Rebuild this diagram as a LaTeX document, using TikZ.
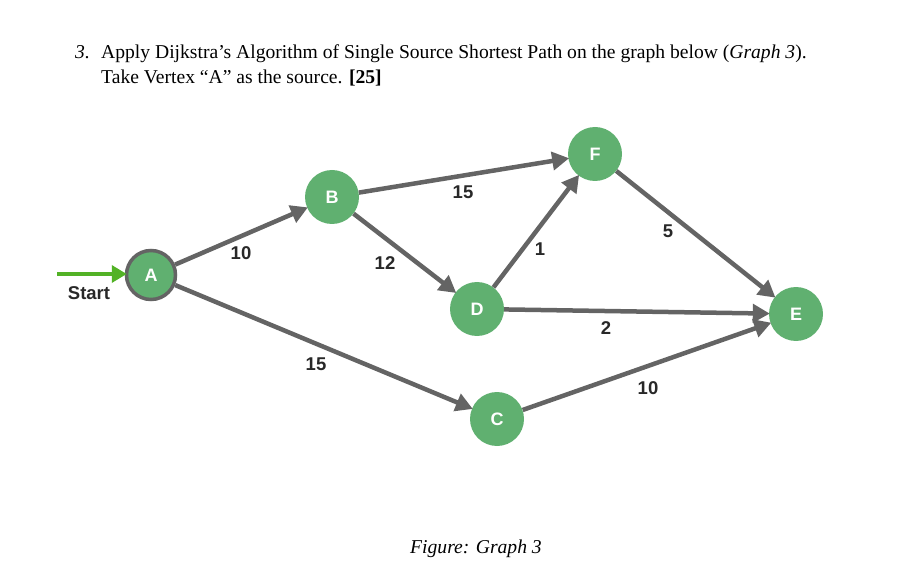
\documentclass[tikz,border=0pt]{standalone}
\usepackage{fontspec}
\setmainfont{Liberation Serif}
\newfontfamily\lblfont{Liberation Sans}
\usetikzlibrary{arrows.meta}
\definecolor{nodegreen}{RGB}{96,176,112}
\definecolor{edgegray}{RGB}{100,100,100}
\definecolor{startgreen}{RGB}{82,178,38}
\definecolor{lblgray}{RGB}{40,40,40}
\tikzset{
  vert/.style={circle, fill=nodegreen, minimum size=54pt, inner sep=0pt,
    text=white, font=\lblfont\bfseries\fontsize{18}{18}\selectfont},
  edg/.style={draw=edgegray, line width=4.5pt,
    -{Triangle[length=17pt,width=18pt]}, shorten >=-1pt},
  lbl/.style={font=\lblfont\bfseries\fontsize{18.5}{18}\selectfont, text=lblgray, inner sep=0pt},
  ttl/.style={font=\fontsize{19.6}{24}\selectfont, anchor=base west, inner sep=0pt}
}
\begin{document}
\begin{tikzpicture}[x=1pt,y=-1pt]
\useasboundingbox (0,0) rectangle (918,585);
% title
\node[ttl] (num) at (75,59) {\textit{3.}};
\node[ttl] (l1) at (101,59) {Apply Dijkstra’s Algorithm of Single Source Shortest Path on the graph below (\textit{Graph 3}).};
\node[ttl] (l2) at (101,84) {Take Vertex “A” as the source. \textbf{[25]}};
% vertices
\node[vert, draw=edgegray, line width=3.5pt, minimum size=49pt] (A) at (151,275) {A};
\node[vert] (B) at (332,197) {B};
\node[vert] (F) at (595,154) {F};
\node[vert] (D) at (477,309) {D};
\node[vert] (E) at (796,314) {E};
\node[vert] (C) at (497,419) {C};
% edges
\draw[edg] (A) -- (B);
\draw[edg] (A) -- (C);
\draw[edg] (B) -- (F);
\draw[edg] (B) -- (D);
\draw[edg] (D) -- (F);
\draw[edg] (D) -- (E);
\draw[edg] (F) -- (E);
\draw[edg] (C) -- (E);
% start arrow
\coordinate (s) at (57,274);
\draw[draw=startgreen, line width=3.5pt, -{Triangle[length=15pt,width=17pt]}, shorten >=-2pt] (s) -- (s -| A.west);
\node[lbl] (st) at (89,293) {Start};
% labels
\node[lbl] (w1) at (241,253) {10};
\node[lbl] (w2) at (385,263) {12};
\node[lbl] (w3) at (463,192) {15};
\node[lbl] (w4) at (540,249) {1};
\node[lbl] (w5) at (668,231) {5};
\node[lbl] (w6) at (606,328) {2};
\node[lbl] (w7) at (316,364) {15};
\node[lbl] (w8) at (648,388) {10};
% caption
\node[font=\itshape\fontsize{19.6}{24}\selectfont, inner sep=0pt] (cap) at (476,549) {Figure: Graph 3};
\end{tikzpicture}
\end{document}
